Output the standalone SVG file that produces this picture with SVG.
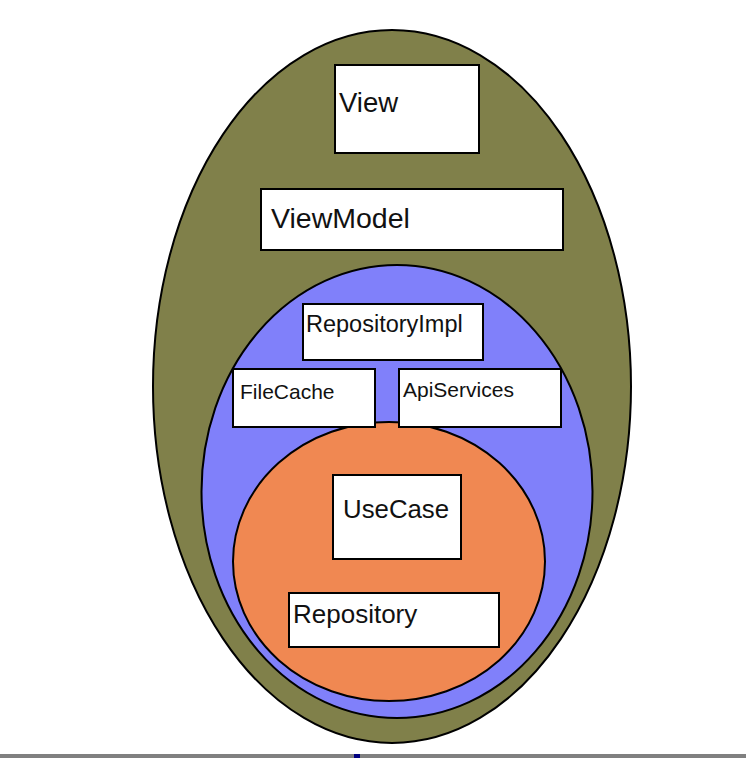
<svg xmlns="http://www.w3.org/2000/svg" width="746" height="758" viewBox="0 0 746 758">
<style>
.layer{stroke:#000;stroke-width:2}
.box{fill:#fff;stroke:#000;stroke-width:2}
.lbl{font-family:"Liberation Sans",Arial,sans-serif;fill:#111}
</style>
<rect x="0" y="0" width="746" height="758" fill="#fff"/>
<g id="presentation-layer">
<ellipse class="layer" cx="392" cy="386.5" rx="239" ry="356.5" fill="#80804a"/>
</g>
<g id="data-layer">
<ellipse class="layer" cx="397" cy="491.5" rx="195.5" ry="226.5" fill="#8080fa"/>
</g>
<g id="domain-layer">
<ellipse class="layer" cx="389" cy="561.5" rx="156" ry="139.5" fill="#f08852"/>
</g>
<g id="connectors"></g>
<g id="view">
<rect class="box" x="335" y="65" width="144" height="88"/>
<text class="lbl" x="339" y="112" font-size="27.5">View</text>
</g>
<g id="viewmodel">
<rect class="box" x="261" y="189" width="302" height="61"/>
<text class="lbl" x="271" y="228" font-size="28.5">ViewModel</text>
</g>
<g id="repositoryimpl">
<rect class="box" x="303" y="304" width="180" height="56"/>
<text class="lbl" x="306" y="332" font-size="23.5">RepositoryImpl</text>
</g>
<g id="filecache">
<rect class="box" x="233" y="369" width="142" height="58"/>
<text class="lbl" x="240" y="399" font-size="21">FileCache</text>
</g>
<g id="apiservices">
<rect class="box" x="399" y="369" width="162" height="58"/>
<text class="lbl" x="403" y="397" font-size="21">ApiServices</text>
</g>
<g id="usecase">
<rect class="box" x="333" y="475" width="128" height="84"/>
<text class="lbl" x="343" y="518" font-size="25.8">UseCase</text>
</g>
<g id="repository">
<rect class="box" x="289" y="593" width="210" height="54"/>
<text class="lbl" x="293" y="623" font-size="26">Repository</text>
</g>
<rect x="0" y="754" width="746" height="4" fill="#808080"/>
<rect x="354" y="754" width="6" height="4" fill="#000080"/>
</svg>
